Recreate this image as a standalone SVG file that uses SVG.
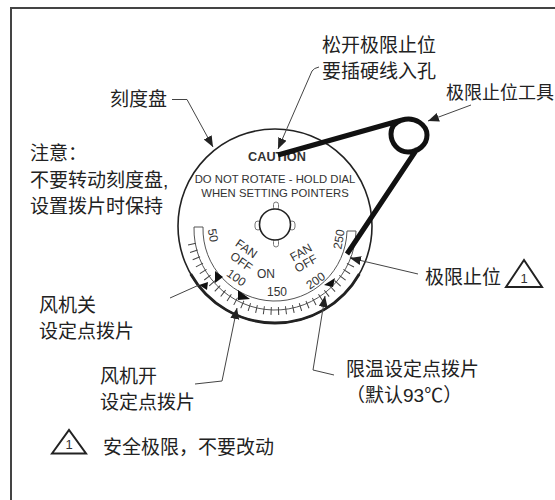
<svg xmlns="http://www.w3.org/2000/svg" width="555" height="500" viewBox="0 0 555 500">
<defs>
<marker id="ah" markerWidth="12" markerHeight="10" refX="11" refY="4.5" orient="auto" markerUnits="userSpaceOnUse"><path d="M0 0L11 4.5L0 9Z" fill="#222"/></marker>
</defs>
<style>
.cn{font-family:"Liberation Sans","Noto Sans CJK SC",sans-serif;font-size:19px;fill:#222}
.en{font-family:"Liberation Sans",sans-serif;font-size:11.3px;fill:#333}
.sc{font-family:"Liberation Sans",sans-serif;font-size:12px;fill:#333;text-anchor:middle}
.ln{fill:none;stroke:#444;stroke-width:1;marker-end:url(#ah)}
.k{fill:none;stroke:#222}
.lobe{fill:#fff;stroke:#777;stroke-width:1}
.ptr{fill:#111}
</style>
<rect width="555" height="500" fill="#fff"/>
<path d="M11 500V8H555" fill="none" stroke="#444" stroke-width="2"/>
<g id="dial">
<circle class="k" cx="275" cy="226" r="97" stroke-width="1.6"/>
<path class="k" d="M190.7 274A97 97 0 0 0 359.3 274" stroke-width="2.8"/>
<text class="en" x="277" y="161" text-anchor="middle" font-weight="bold" style="font-size:12.7px">CAUTION</text>
<text class="en" x="275" y="183" text-anchor="middle">DO NOT ROTATE - HOLD DIAL</text>
<text class="en" x="275" y="197" text-anchor="middle">WHEN SETTING POINTERS</text>
<rect class="lobe" x="273.500" y="202" width="5" height="8" rx="2.500"/>
<rect class="lobe" x="273.500" y="239" width="5" height="8" rx="2.500"/>
<rect class="lobe" x="255" y="221" width="6" height="9" rx="3"/>
<rect class="lobe" x="289" y="221" width="6" height="9" rx="3"/>
<circle cx="275" cy="224.500" r="15.500" fill="#fff" stroke="#222" stroke-width="1.600"/>
<path d="M194 227A81 81 0 0 0 356 231L347 231A72 72 0 0 1 203 227Z" fill="none" stroke="#555" stroke-width="1"/>
<path d="M191.860 243.670A85 85 0 0 0 354.870 255.070" fill="none" stroke="#444" stroke-width="8" stroke-dasharray="1 6.418"/>
<text class="sc" transform="translate(209 236) rotate(80)">50</text>
<text class="sc" transform="translate(234 281) rotate(35)">100</text>
<text class="sc" x="277" y="296">150</text>
<text class="sc" transform="translate(318 284) rotate(-35)">200</text>
<text class="sc" transform="translate(343 240) rotate(-80)">250</text>
<text class="sc" transform="translate(244 252) rotate(35)">FAN</text>
<text class="sc" transform="translate(239 265) rotate(35)">OFF</text>
<text class="sc" x="266" y="278">ON</text>
<text class="sc" transform="translate(303 256) rotate(-30)">FAN</text>
<text class="sc" transform="translate(308 267) rotate(-30)">OFF</text>
<path class="ptr" d="M215 271L215 283L223 277Z"/>
<path class="ptr" d="M238 290L238 300L250 299Z"/>
<path class="ptr" d="M324 285L335 278L333 287Z"/>
</g>
<g id="connectors">
<path class="ln" d="M172 99.500H187L213 147"/>
<path class="ln" d="M319 67Q314 68 312 71L278 149"/>
<path class="ln" d="M471 105L428 121"/>
<path class="ln" d="M418 274L350 258"/>
<path fill="none" stroke="#444" d="M170 298L199 285"/>
<path class="ptr" d="M199 285L208 282L207 290Z"/>
<path class="ln" d="M195 384L222 381L237 308"/>
<path class="ln" d="M334 375L313 370L325 296"/>
</g>
<g id="tool">
<path d="M278 155L402 120C415 116 427 125 427 135C427 145 418 152 408 152C398 152 391 143 391 134C391 126 396 122 402 120M417 149L347 254" fill="none" stroke="#111" stroke-width="5"/>
</g>
<g id="labels">
<text class="cn" x="322" y="52">松开极限止位</text>
<text class="cn" x="322" y="78">要插硬线入孔</text>
<text class="cn" x="446" y="99" style="font-size:18px">极限止位工具</text>
<text class="cn" x="110" y="106">刻度盘</text>
<text class="cn" x="30" y="160">注意：</text>
<text class="cn" x="30" y="187">不要转动刻度盘,</text>
<text class="cn" x="30" y="213">设置拨片时保持</text>
<text class="cn" x="425" y="284">极限止位</text>
<text class="cn" x="39" y="312">风机关</text>
<text class="cn" x="39" y="338">设定点拨片</text>
<text class="cn" x="100" y="383">风机开</text>
<text class="cn" x="100" y="409">设定点拨片</text>
<text class="cn" x="346" y="376">限温设定点拨片</text>
<text class="cn" x="346" y="402">（默认93℃）</text>
<text class="cn" x="103" y="454">安全极限，不要改动</text>
</g>
<g id="limit-mark"><path d="M506 287L524 260L542 287Z" fill="none" stroke="#222" stroke-width="2"/><text class="en" x="524" y="283" text-anchor="middle" style="font-size:13px">1</text></g>
<g id="safety-mark"><path d="M52 453.500L69 430L86 453.500Z" fill="none" stroke="#222" stroke-width="2"/><text class="en" x="69" y="449" text-anchor="middle" style="font-size:13px">1</text></g>
</svg>
